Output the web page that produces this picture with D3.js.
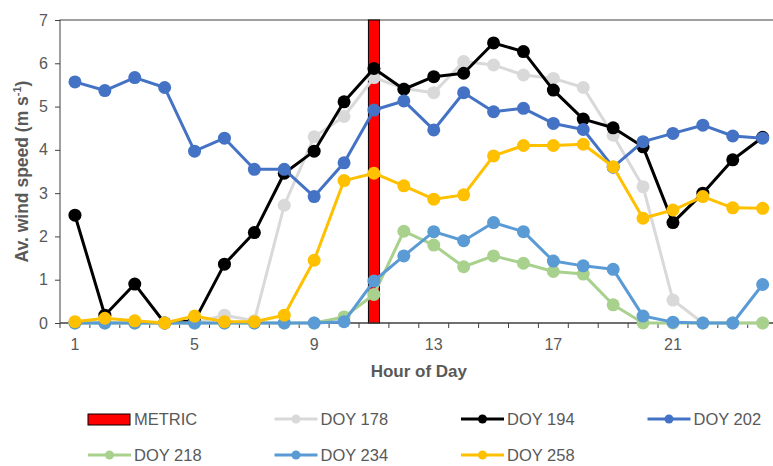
<!DOCTYPE html>
<html>
<head>
<meta charset="utf-8">
<script src="https://cdn.jsdelivr.net/npm/d3@7"></script>
<style>
  body { margin: 0; background: #fff; }
  text { font-family: "Liberation Sans", Arial, sans-serif; fill: #595959; }
</style>
</head>
<body>
<div id="chart"></div>
<script>
(function(d3) {
  'use strict';

  var hours = d3.range(1, 25);
  var tickHours = [1, 5, 9, 13, 17, 21];
  var metricHour = 11;
  var metricValue = 7;

  var doy178 = [0, 0, 0, 0, 0, 0.18, 0.05, 2.72, 4.30, 4.77, 5.67, 5.42, 5.32, 6.04, 5.96, 5.73, 5.65, 5.44, 4.34, 3.15, 0.53, 0, 0, 0];
  var doy194 = [2.49, 0.18, 0.90, 0, 0.05, 1.36, 2.09, 3.46, 3.97, 5.11, 5.88, 5.40, 5.69, 5.77, 6.47, 6.27, 5.38, 4.71, 4.51, 4.07, 2.32, 3.00, 3.77, 4.29];
  var doy202 = [5.57, 5.37, 5.67, 5.44, 3.97, 4.27, 3.55, 3.55, 2.92, 3.70, 4.92, 5.13, 4.46, 5.32, 4.88, 4.96, 4.61, 4.47, 3.60, 4.19, 4.38, 4.57, 4.32, 4.27];
  var doy218 = [0, 0, 0, 0, 0, 0, 0, 0, 0, 0.14, 0.66, 2.12, 1.80, 1.30, 1.55, 1.38, 1.19, 1.13, 0.42, 0, 0, 0, 0, 0];
  var doy234 = [0, 0, 0, 0, 0, 0, 0, 0, 0, 0.03, 0.97, 1.55, 2.11, 1.90, 2.32, 2.11, 1.43, 1.32, 1.24, 0.16, 0.02, 0, 0, 0.89];
  var doy258 = [0.03, 0.11, 0.05, 0, 0.16, 0.03, 0.03, 0.18, 1.45, 3.29, 3.46, 3.17, 2.86, 2.96, 3.86, 4.10, 4.10, 4.13, 3.61, 2.42, 2.61, 2.92, 2.66, 2.65];

  var series = [
    { label: 'DOY 178', values: doy178, color: '#d9d9d9' },
    { label: 'DOY 194', values: doy194, color: '#000000' },
    { label: 'DOY 202', values: doy202, color: '#4472c4' },
    { label: 'DOY 218', values: doy218, color: '#a9d18e' },
    { label: 'DOY 234', values: doy234, color: '#5b9bd5' },
    { label: 'DOY 258', values: doy258, color: '#ffc000' }
  ];

  var width = 773;
  var height = 466;
  var left = 60, top = 20, bottom = 323;
  var band = 29.9;

  var svg = d3.select('#chart')
    .append('svg')
    .attr('width', width)
    .attr('height', height);

  var x = d3.scaleBand()
    .domain(hours)
    .range([left, left + band * hours.length])
    .paddingInner(0.63)
    .paddingOuter(0.315);

  var y = d3.scaleLinear()
    .domain([0, 7])
    .range([bottom, top]);

  function cx(h) { return x(h) + x.bandwidth() / 2; }

  // frame
  svg.append('rect')
    .attr('x', left)
    .attr('y', top)
    .attr('width', band * hours.length)
    .attr('height', bottom - top)
    .attr('fill', 'none')
    .attr('stroke', '#404040')
    .attr('stroke-width', 1);

  // metric bar
  svg.append('rect')
    .attr('x', x(metricHour))
    .attr('y', y(metricValue))
    .attr('width', x.bandwidth())
    .attr('height', y(0) - y(metricValue))
    .attr('fill', '#ff0000')
    .attr('stroke', '#000')
    .attr('stroke-width', 1);

  // axes
  var xAxis = d3.axisBottom(x)
    .tickSize(0)
    .tickValues(tickHours);
  var gx = svg.append('g')
    .attr('transform', 'translate(0,' + bottom + ')')
    .call(xAxis);
  gx.select('.domain').remove();
  gx.selectAll('text')
    .attr('dy', null)
    .attr('y', 27)
    .style('font-size', '16px')
    .attr('fill', '#595959');

  // tick marks between categories
  svg.append('g')
    .selectAll('line')
    .data(d3.range(hours.length + 1))
    .enter()
    .append('line')
    .attr('x1', function(d) { return left + d * band; })
    .attr('x2', function(d) { return left + d * band; })
    .attr('y1', bottom)
    .attr('y2', bottom + 5)
    .attr('stroke', '#404040');

  svg.append('line')
    .attr('x1', left).attr('x2', left + band * hours.length)
    .attr('y1', bottom).attr('y2', bottom)
    .attr('stroke', '#404040');

  var yAxis = d3.axisLeft(y).ticks(7).tickSize(5).tickPadding(7);
  var gy = svg.append('g')
    .attr('transform', 'translate(' + left + ',0)')
    .call(yAxis);
  gy.select('.domain').remove();
  gy.selectAll('line').attr('stroke', '#404040');
  gy.selectAll('text')
    .style('font-size', '16px')
    .attr('fill', '#595959');

  // axis titles
  svg.append('text')
    .attr('x', left + band * hours.length / 2)
    .attr('y', 377)
    .attr('text-anchor', 'middle')
    .style('font-size', '17px')
    .style('font-weight', 'bold')
    .text('Hour of Day');

  var yt = svg.append('text')
    .attr('transform', 'translate(28,' + ((top + bottom) / 2) + ') rotate(-90)')
    .attr('text-anchor', 'middle')
    .style('font-size', '17.5px')
    .style('font-weight', 'bold');
  yt.append('tspan').text('Av. wind speed (m s');
  yt.append('tspan').attr('dy', -7).style('font-size', '11px').text('-1');
  yt.append('tspan').attr('dy', 7).text(')');

  // lines and markers
  var line = d3.line()
    .x(function(d, i) { return cx(hours[i]); })
    .y(function(d) { return y(d); });

  series.forEach(function(s) {
    var g = svg.append('g');
    g.append('path')
      .attr('d', line(s.values))
      .attr('fill', 'none')
      .attr('stroke', s.color)
      .attr('stroke-width', 3)
      .attr('stroke-linejoin', 'round');
    g.selectAll('circle')
      .data(s.values)
      .enter()
      .append('circle')
      .attr('cx', function(d, i) { return cx(hours[i]); })
      .attr('cy', function(d) { return y(d); })
      .attr('r', 6.5)
      .attr('fill', s.color);
  });

  // legend
  var legendItems = [{ label: 'METRIC', bar: true }].concat(series);
  var legend = svg.selectAll('.legend')
    .data(legendItems)
    .enter()
    .append('g')
    .attr('class', 'legend')
    .attr('transform', function(d, i) {
      var col = i % 4, row = Math.floor(i / 4);
      return 'translate(' + (88 + col * 186.5) + ',' + (419 + row * 36) + ')';
    });

  legend.each(function(d) {
    var g = d3.select(this);
    if (d.bar) {
      g.append('rect')
        .attr('x', 0).attr('y', -5)
        .attr('width', 42).attr('height', 11)
        .attr('fill', '#ff0000')
        .attr('stroke', '#000');
    } else {
      g.append('line')
        .attr('x1', 0).attr('x2', 43)
        .attr('y1', 0).attr('y2', 0)
        .attr('stroke', d.color)
        .attr('stroke-width', 3);
      g.append('circle')
        .attr('cx', 21.5).attr('cy', 0)
        .attr('r', 4.5)
        .attr('fill', d.color);
    }
    g.append('text')
      .attr('x', 46)
      .attr('y', 5.5)
      .style('font-size', '16.5px')
      .text(d.label);
  });

})(window.d3);
</script>
</body>
</html>
